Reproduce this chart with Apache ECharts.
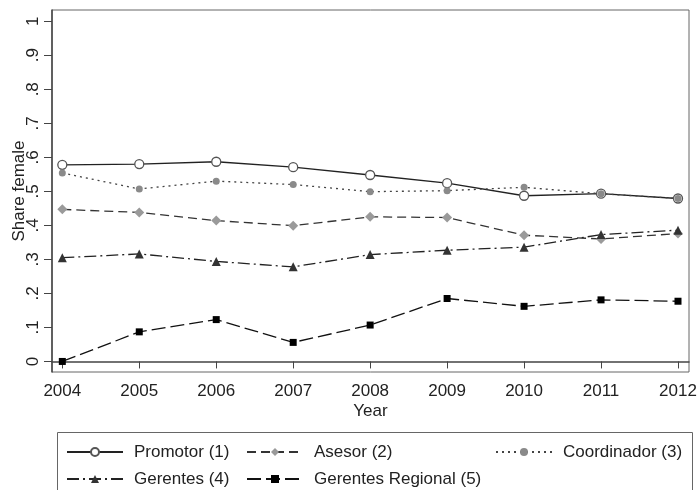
<!DOCTYPE html>
<html>
<head>
<meta charset="utf-8">
<script src="https://cdn.jsdelivr.net/npm/echarts@6/dist/echarts.min.js"></script>
<style>
  html, body { margin: 0; padding: 0; background: #fff; }
  #chart { width: 699px; height: 490px; }
</style>
</head>
<body>
<div id="chart"></div>
<script>
// data
const years = [2004, 2005, 2006, 2007, 2008, 2009, 2010, 2011, 2012]
const promotor = [0.578, 0.580, 0.587, 0.571, 0.548, 0.524, 0.487, 0.493, 0.479]
const asesor = [0.447, 0.438, 0.414, 0.399, 0.425, 0.423, 0.371, 0.360, 0.376]
const coordinador = [0.554, 0.507, 0.530, 0.520, 0.499, 0.502, 0.512, 0.493, 0.479]
const gerentes = [0.305, 0.316, 0.294, 0.278, 0.314, 0.327, 0.336, 0.373, 0.386]
const regional = [0.000, 0.087, 0.123, 0.056, 0.107, 0.185, 0.162, 0.181, 0.177]
const yTicks = [0, 0.1, 0.2, 0.3, 0.4, 0.5, 0.6, 0.7, 0.8, 0.9, 1]

const font = 'Liberation Sans, Arial, Helvetica, sans-serif'
const pairs = (vals) => years.map((y, i) => [y, vals[i]])

const yLabel = (v) => {
  if (Math.abs(v) < 1e-9) return '0'
  if (Math.abs(v - 1) < 1e-9) return '1'
  return v.toFixed(1).replace(/^0/, '')
}

const mkSeries = (name, vals, line, sym) => ({
  name,
  type: 'line',
  data: pairs(vals),
  symbol: sym.symbol,
  symbolSize: sym.size,
  showAllSymbol: true,
  lineStyle: Object.assign({ width: 1.3 }, line),
  itemStyle: sym.style,
  emphasis: { disabled: true },
  animation: false
})

// one legend per entry so each can sit in its own column / row
const legendItem = (name, left, top) => ({
  orient: 'horizontal',
  left, top,
  data: [name],
  itemWidth: 56,
  itemHeight: 10,
  selectedMode: false,
  padding: 0,
  textStyle: { fontFamily: font, fontSize: 17, color: '#222', lineHeight: 18, padding: [0, 0, 0, 6] }
})

const chart = echarts.init(document.getElementById('chart'))

chart.setOption({
  backgroundColor: '#fff',
  grid: {
    left: 52, top: 10, width: 637, height: 362,
    show: true, borderColor: '#666', borderWidth: 1,
    outerBoundsMode: 'none'
  },
  xAxis: {
    type: 'value',
    min: 2003.866,
    max: 2012.143,
    axisLine: { lineStyle: { color: '#444', width: 1.5 } },
    axisTick: { customValues: years, length: 7, lineStyle: { color: '#444' } },
    axisLabel: {
      customValues: years, margin: 11,
      fontFamily: font, fontSize: 17, color: '#222',
      formatter: (v) => String(Math.round(v))
    },
    splitLine: { show: false },
    name: 'Year',
    nameLocation: 'middle',
    nameGap: 31,
    nameMoveOverlap: false,
    nameTextStyle: { fontFamily: font, fontSize: 17, color: '#222' }
  },
  yAxis: {
    type: 'value',
    min: -0.031,
    max: 1.033,
    axisLine: { show: true, lineStyle: { color: '#444', width: 1.5 } },
    axisTick: { show: true, customValues: yTicks, length: 8, lineStyle: { color: '#444' } },
    axisLabel: {
      customValues: yTicks, rotate: 90, margin: 10,
      fontFamily: font, fontSize: 17, color: '#222',
      formatter: yLabel
    },
    splitLine: { show: false },
    name: 'Share female',
    nameLocation: 'middle',
    nameGap: 24,
    nameMoveOverlap: false,
    nameTextStyle: { fontFamily: font, fontSize: 17, color: '#222' }
  },
  legend: [
    legendItem('Promotor (1)', 66, 443),
    legendItem('Asesor (2)', 246, 443),
    legendItem('Coordinador (3)', 495, 443),
    legendItem('Gerentes (4)', 66, 470),
    legendItem('Gerentes Regional (5)', 246, 470)
  ],
  graphic: [{
    type: 'rect',
    shape: { x: 57.5, y: 432.5, width: 635, height: 80 },
    style: { fill: 'none', stroke: '#666', lineWidth: 1 },
    silent: true
  }],
  series: [
    mkSeries('Promotor (1)', promotor,
      { color: '#222', type: 'solid' },
      { symbol: 'circle', size: 9, style: { color: '#fff', borderColor: '#555', borderWidth: 1.3 } }),
    mkSeries('Asesor (2)', asesor,
      { color: '#333', type: [9, 5] },
      { symbol: 'diamond', size: 10, style: { color: '#9a9a9a', borderWidth: 0 } }),
    mkSeries('Coordinador (3)', coordinador,
      { color: '#444', type: [2, 4] },
      { symbol: 'circle', size: 7, style: { color: '#8a8a8a', borderWidth: 0 } }),
    mkSeries('Gerentes (4)', gerentes,
      { color: '#222', type: [12, 4, 2, 4] },
      { symbol: 'triangle', size: 9, style: { color: '#333', borderWidth: 0 } }),
    mkSeries('Gerentes Regional (5)', regional,
      { color: '#111', type: [14, 5] },
      { symbol: 'rect', size: 7, style: { color: '#000', borderWidth: 0 } })
  ]
})

window.addEventListener('resize', () => chart.resize())
</script>
</body>
</html>
